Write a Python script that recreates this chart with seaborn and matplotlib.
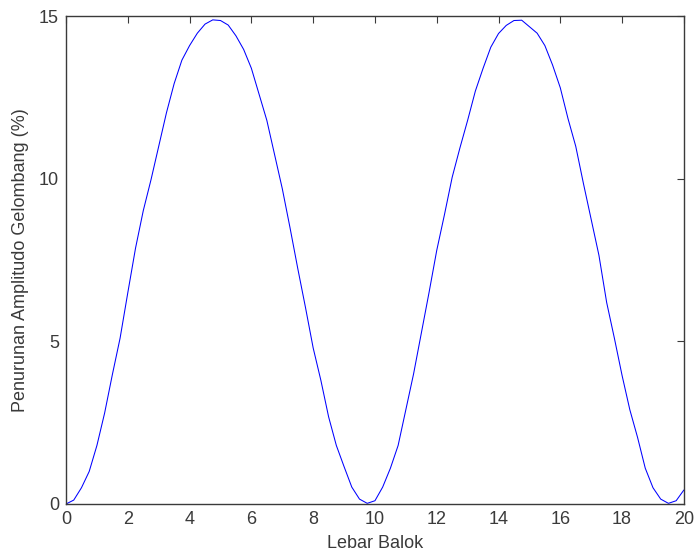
import numpy as np
import pandas as pd
import matplotlib
matplotlib.use("Agg")
import matplotlib.pyplot as plt
import seaborn as sns

# lebar balok (x) dan penurunan amplitudo (%)
lebar_balok = np.arange(0, 20.01, 0.25)
penurunan = [
    0.00, 0.12, 0.50, 1.00, 1.80, 2.80, 3.98, 5.10, 6.50, 7.87,
    9.02, 9.97, 11.00, 12.03, 12.93, 13.65, 14.10, 14.48, 14.76, 14.89,
    14.87, 14.73, 14.40, 13.98, 13.40, 12.60, 11.80, 10.75, 9.70, 8.50,
    7.25, 6.05, 4.80, 3.80, 2.68, 1.80, 1.15, 0.52, 0.15, 0.02,
    0.10, 0.52, 1.10, 1.80, 2.90, 4.00, 5.25, 6.50, 7.80, 8.90,
    10.05, 10.95, 11.80, 12.70, 13.40, 14.05, 14.47, 14.72, 14.87, 14.88,
    14.68, 14.48, 14.10, 13.50, 12.80, 11.85, 11.00, 9.85, 8.75, 7.65,
    6.20, 5.10, 3.95, 2.90, 2.05, 1.10, 0.50, 0.15, 0.02, 0.10,
    0.43,
]
x_ticks = [0, 2, 4, 6, 8, 10, 12, 14, 16, 18, 20]
y_ticks = [0, 5, 10, 15]

df = pd.DataFrame({"Lebar Balok": lebar_balok, "Penurunan": penurunan})

sns.set_style("white")
plt.rcParams["font.family"] = ["Liberation Sans", "DejaVu Sans"]

teks = "#3a3a3a"

fig = plt.figure(figsize=(6.95, 5.58), dpi=100)
ax = fig.add_axes([0.095, 0.0968, 0.889, 0.874])

sns.lineplot(data=df, x="Lebar Balok", y="Penurunan", ax=ax,
             color="#0000ff", linewidth=0.75)

ax.set_xlim(0, 20)
ax.set_ylim(0, 15)
ax.set_xticks(x_ticks)
ax.set_yticks(y_ticks)
ax.tick_params(direction="in", length=5, width=0.8, colors=teks,
               labelsize=13, top=True, right=True, pad=5)
for s in ax.spines.values():
    s.set_color(teks)
    s.set_linewidth(1.0)
    s.set_visible(True)

ax.set_xlabel("Lebar Balok", fontsize=13, color=teks, labelpad=5)
ax.set_ylabel("Penurunan Amplitudo Gelombang (%)", fontsize=13, color=teks,
              labelpad=7)

fig.savefig("out.png", dpi=100)
